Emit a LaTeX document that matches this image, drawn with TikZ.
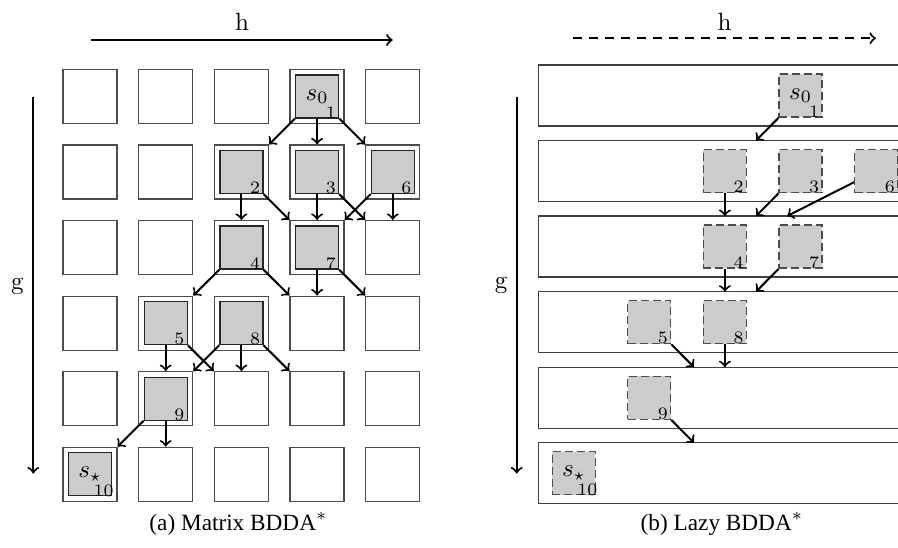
\documentclass[tikz,border=0pt]{standalone}
\usepackage{amsmath,amssymb}
\usepackage{fontspec}
\newfontfamily\capfont{Liberation Serif}
\usetikzlibrary{calc}
\newcommand{\BDDAStepNo}[2]{
    \node[stepno] at ([shift={(-8.5,-6)}]#1.south east) {#2};
}
\tikzset{
    cell/.style={draw=black!70, line width=0.5pt, minimum size=21.6pt, inner sep=0pt},
    visited/.style={draw=black!85, fill=black!20, line width=0.5pt, minimum size=17.2pt, inner sep=0pt},
    lazyvisited/.style={visited, draw=black!70, dash pattern=on 3.2pt off 1.6pt},
    lane/.style={draw=black!75, line width=0.5pt, minimum width=220pt, minimum height=24.4pt, inner sep=0pt},
    stepno/.style={font=\scriptsize, inner sep=0pt},
    succ/.style={->, line width=0.8pt},
    axis/.style={->, line width=0.8pt},
    caption/.style={font=\capfont\fontsize{9.3}{11}\selectfont, inner sep=0pt},
}

\begin{document}
\begin{tikzpicture}[x=0.4pt, y=-0.4pt]
    \useasboundingbox (0,0) rectangle (898,547);

    % (a) matrix
    \coordinate (hA0) at (91,40);
    \coordinate (hA1) at (392.7,40);
    \coordinate (gA0) at (33.3,96.7);
    \coordinate (gA1) at (33.3,473.5);
    \node (hlabA) at (242,22) {h};
    \node (glabA) at (17.5,286) {g};
    \draw[axis] (hA0) -- (hA1);
    \draw[axis] (gA0) -- (gA1);

    \foreach \r in {1,...,6}{
        \foreach \c in {1,...,5}{
            \node[cell] (m\r\c) at ({90+75.7*(\c-1)},{96.5+75.55*(\r-1)}) {};
        }
    }

    \node[visited] (a1) at (m14) {$s_0$};
    \node[visited] (a2) at (m23) {};
    \node[visited] (a3) at (m24) {};
    \node[visited] (a6) at (m25) {};
    \node[visited] (a4) at (m33) {};
    \node[visited] (a7) at (m34) {};
    \node[visited] (a5) at (m42) {};
    \node[visited] (a8) at (m43) {};
    \node[visited] (a9) at (m52) {};
    \node[visited] (a10) at (m61) {$s_\star$};
    \foreach \n in {1,...,10}{
        \BDDAStepNo{a\n}{\n}
    }

    \foreach \s/\t in {a1/m23.north east, a1/m24.north, a1/m25.north west,
                       a2/m33.north, a2/m34.north west,
                       a3/m34.north, a3/m35.north west,
                       a6/m34.north east, a6/m35.north,
                       a4/m42.north east, a4/m44.north west,
                       a7/m44.north, a7/m45.north west,
                       a5/m52.north, a5/m53.north west,
                       a8/m52.north east, a8/m53.north, a8/m54.north west,
                       a9/m61.north east, a9/m62.north}{
        \draw[succ] (\s) -- (\t);
    }

    \node[caption] (capA) at (238.5,524) {(a) Matrix BDDA$^*$};

    % (b) lazy
    \coordinate (hB0) at (573.3,38.3);
    \coordinate (hB1) at (876,38.3);
    \coordinate (gB0) at (516.7,96.7);
    \coordinate (gB1) at (516.7,473.5);
    \node (hlabB) at (724.5,22) {h};
    \node (glabB) at (501,285) {g};
    \draw[axis, dash pattern=on 3.4pt off 3pt] (hB0) -- (hB1);
    \draw[axis] (gB0) -- (gB1);

    \foreach \r in {1,...,6}{
        \node[lane] (l\r) at (813.3,{95.5+75.55*(\r-1)}) {};
    }
    \foreach \c/\x in {1/573.7, 2/649.3, 3/724.9, 4/800.5, 5/876.1}{
        \coordinate (k\c) at (\x,0);
    }

    \node[lazyvisited] (b1) at (k4 |- l1) {$s_0$};
    \node[lazyvisited] (b2) at (k3 |- l2) {};
    \node[lazyvisited] (b3) at (k4 |- l2) {};
    \node[lazyvisited] (b6) at (k5 |- l2) {};
    \node[lazyvisited] (b4) at (k3 |- l3) {};
    \node[lazyvisited] (b7) at (k4 |- l3) {};
    \node[lazyvisited] (b5) at (k2 |- l4) {};
    \node[lazyvisited] (b8) at (k3 |- l4) {};
    \node[lazyvisited] (b9) at (k2 |- l5) {};
    \node[lazyvisited] (b10) at (k1 |- l6) {$s_\star$};
    \foreach \n in {1,...,10}{
        \BDDAStepNo{b\n}{\n}
    }

    \coordinate (e12) at (756,140.6);
    \coordinate (e23) at (724.9,216.1);
    \coordinate (e33) at (756,216.1);
    \coordinate (e63) at (787,216.1);
    \coordinate (e44) at (724.9,291.7);
    \coordinate (e74) at (756,291.7);
    \coordinate (e55) at (694,367.2);
    \coordinate (e85) at (724.9,367.2);
    \coordinate (e96) at (694,442.8);
    \foreach \s/\t in {b1/e12, b2/e23, b3/e33, b6/e63, b4/e44,
                       b7/e74, b5/e55, b8/e85, b9/e96}{
        \draw[succ] (\s) -- (\t);
    }

    \node[caption] (capB) at (722,524) {(b) Lazy BDDA$^*$};
\end{tikzpicture}
\end{document}
